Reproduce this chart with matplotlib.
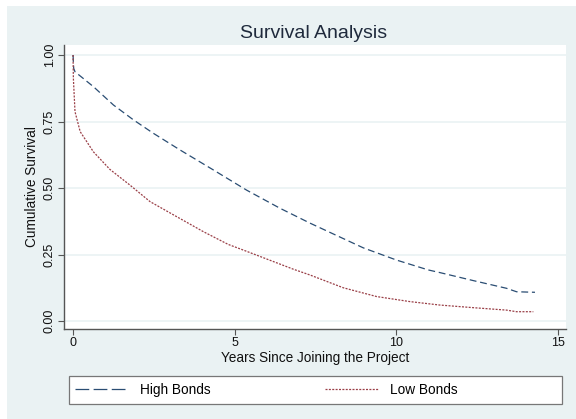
import matplotlib
matplotlib.use("Agg")
import matplotlib.pyplot as plt
from matplotlib.patches import Rectangle
from matplotlib.lines import Line2D

plt.rcParams['font.family'] = ['Liberation Sans', 'DejaVu Sans']

# Kaplan-Meier estimates
high_years = [0, 0.02, 0.06, 0.63, 1.25, 1.87, 2.48, 3.31, 4.34, 5.37, 6.40,
              7.33, 7.95, 8.98, 10.01, 10.99, 11.35, 12.38, 13.41, 13.72, 14.29]
high_surv = [1.0, 0.95, 0.937, 0.881, 0.812, 0.756, 0.706, 0.643, 0.568, 0.492,
             0.424, 0.368, 0.333, 0.275, 0.229, 0.192, 0.182, 0.152, 0.123,
             0.110, 0.108]

low_years = [0, 0.01, 0.06, 0.22, 0.63, 1.14, 1.76, 2.38, 3.21, 4.03, 4.80,
             5.37, 6.81, 7.33, 8.36, 9.39, 10.42, 11.35, 12.4, 13.41, 13.72, 14.24]
low_surv = [1.0, 0.912, 0.787, 0.712, 0.636, 0.570, 0.511, 0.449, 0.392, 0.336,
            0.288, 0.262, 0.195, 0.173, 0.125, 0.092, 0.073, 0.06, 0.05, 0.041,
            0.035, 0.035]

x_ticks = [0, 5, 10, 15]
y_ticks = [0.0, 0.25, 0.5, 0.75, 1.0]
y_labels = ["0.00", "0.25", "0.50", "0.75", "1.00"]

W, H = 576, 419
bg = '#eaf2f3'
navy = '#2a4d73'
maroon = '#9a3f47'

fig = plt.figure(figsize=(W / 100, H / 100), dpi=100, facecolor='white')
# graph region (light blue-gray), offset like the original export
fig.patches.append(Rectangle((7 / W, 0), 1 - 7 / W, 1 - 6 / H,
                             transform=fig.transFigure, facecolor=bg,
                             edgecolor='none', zorder=-10))

ax = fig.add_axes([64 / W, 1 - 329 / H, (566 - 64) / W, (329 - 45) / H])
ax.set_zorder(1)
ax.set_facecolor('white')

ax.plot(high_years, high_surv, color=navy, lw=0.9, dashes=(5.5, 3))
ax.plot(low_years, low_surv, color=maroon, lw=0.9, dashes=(1.6, 1.1))

ax.set_xlim(-0.28, 15.25)
ax.set_ylim(-0.03, 1.0376)
ax.set_xticks(x_ticks)
ax.set_yticks(y_ticks)
ax.set_yticklabels(y_labels, rotation=90, va='center')

for y in y_ticks:
    ax.axhline(y, color=bg, lw=1.2, zorder=0)

for s in ['top', 'right']:
    ax.spines[s].set_visible(False)
for s in ['left', 'bottom']:
    ax.spines[s].set_color('#555555')
    ax.spines[s].set_linewidth(1.0)
ax.tick_params(length=4, width=0.8, color='#555555', labelsize=9,
               labelcolor='#111111', pad=2)

ax.set_xlabel('Years Since Joining the Project', fontsize=9.8, color='#111111',
              labelpad=1)
ax.set_ylabel('Cumulative Survival', fontsize=9.8, color='#111111', labelpad=3)
fig.text(314 / W, 1 - 33 / H, 'Survival Analysis', ha='center', va='center',
         fontsize=14, color='#1f2a3c')

# legend box
fig.patches.append(Rectangle((69 / W, 1 - 404 / H), (562 - 69) / W, 28 / H,
                             transform=fig.transFigure, facecolor='white',
                             edgecolor='#777777', lw=0.9, zorder=2))
keys = [Line2D([], [], color=navy, lw=0.9, dashes=(11, 3.5)),
        Line2D([], [], color=maroon, lw=0.9, dashes=(1.6, 1.1))]
names = ['High Bonds', 'Low Bonds']
for handle, name, x0 in zip(keys, names, [75, 325]):
    lg = fig.legend([handle], [name], loc='center left',
                    bbox_to_anchor=(x0 / W, 1 - 390 / H), frameon=False,
                    fontsize=9.8, handlelength=4.0, handletextpad=0.75,
                    borderpad=0, borderaxespad=0)
    lg.set_zorder(3)

fig.savefig('out.png', dpi=100, facecolor=fig.get_facecolor())
